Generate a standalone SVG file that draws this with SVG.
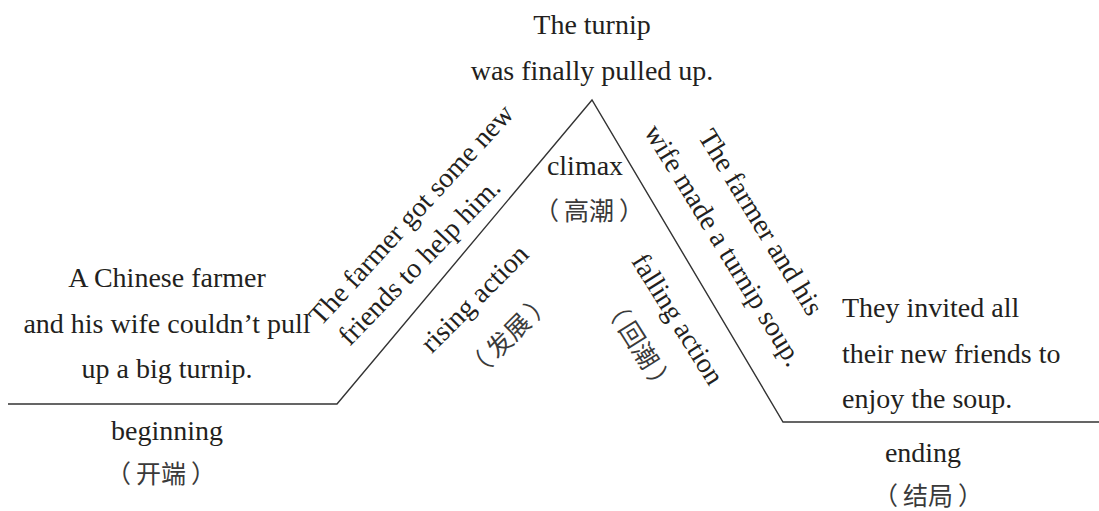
<svg xmlns="http://www.w3.org/2000/svg" width="1099" height="511" viewBox="0 0 1099 511">
  <style>
    .t { font-family: "Liberation Serif", "Noto Sans CJK SC", serif; font-size: 28px; fill: #231f20; }
    .c { text-anchor: middle; }
    .cjk { font-family: "Noto Sans CJK SC", sans-serif; font-size: 25px; fill: #3a3a3a; text-anchor: middle; }
    .plot { fill: none; stroke: #333; stroke-width: 1.4; }
  </style>
  <rect width="1099" height="511" fill="#ffffff"/>

  <!-- plot line: beginning, rise, climax, fall, ending -->
  <g id="connectors">
    <polyline class="plot" points="8,404 337,404 592,100 783,422 1099,422"/>
  </g>

  <g id="climax-event">
    <text class="t c" x="592" y="34">The turnip</text>
    <text class="t c" x="592" y="80">was finally pulled up.</text>
  </g>

  <g id="beginning">
    <text class="t c" x="167" y="287">A Chinese farmer</text>
    <text class="t c" x="167" y="333">and his wife couldn’t pull</text>
    <text class="t c" x="167" y="378">up a big turnip.</text>
    <text class="t c" x="167" y="440">beginning</text>
    <text class="cjk" x="161" y="483">（<tspan dx="5">开端</tspan><tspan dx="5">）</tspan></text>
  </g>

  <g id="rising-action">
    <g transform="translate(418,221) rotate(-47.5)">
      <text class="t c" x="0" y="0">The farmer got some new</text>
    </g>
    <g transform="translate(426,268) rotate(-46)">
      <text class="t c" x="0" y="0">friends to help him.</text>
    </g>
    <g transform="translate(481,305) rotate(-45)">
      <text class="t c" x="0" y="0">rising action</text>
    </g>
    <g transform="translate(515,342) rotate(-45)">
      <text class="cjk" x="0" y="0">（<tspan dx="5">发展</tspan><tspan dx="5">）</tspan></text>
    </g>
  </g>

  <g id="climax">
    <text class="t c" x="585" y="175">climax</text>
    <text class="cjk" x="589" y="220">（<tspan dx="5">高潮</tspan><tspan dx="5">）</tspan></text>
  </g>

  <g id="falling-action">
    <g transform="translate(753,227) rotate(58.5)">
      <text class="t c" x="0" y="0">The farmer and his</text>
    </g>
    <g transform="translate(716,250) rotate(58.5)">
      <text class="t c" x="0" y="0">wife made a turnip soup.</text>
    </g>
    <g transform="translate(670,324) rotate(58)">
      <text class="t c" x="0" y="0">falling action</text>
    </g>
    <g transform="translate(631,350) rotate(58)">
      <text class="cjk" x="0" y="0">（<tspan dx="5">回潮</tspan><tspan dx="5">）</tspan></text>
    </g>
  </g>

  <g id="ending">
    <text class="t" x="842" y="317">They invited all</text>
    <text class="t" x="842" y="363">their new friends to</text>
    <text class="t" x="842" y="408">enjoy the soup.</text>
    <text class="t c" x="923" y="462">ending</text>
    <text class="cjk" x="928" y="505">（<tspan dx="5">结局</tspan><tspan dx="5">）</tspan></text>
  </g>
</svg>
